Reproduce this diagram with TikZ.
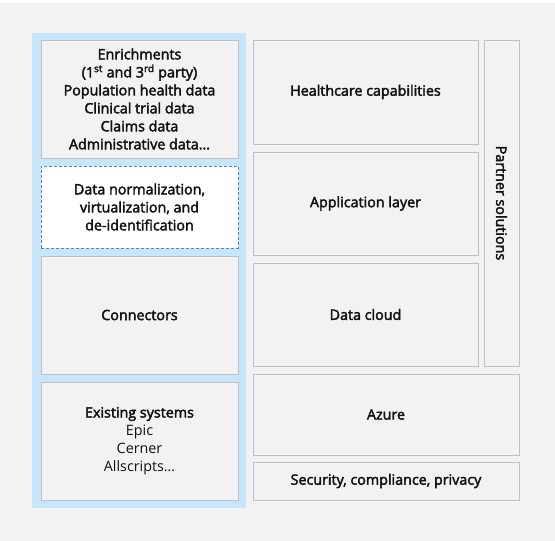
\documentclass[tikz,border=0pt]{standalone}
\usepackage{fontspec}
\setmainfont{Open Sans}
\newfontfamily\semib[FakeBold=2.6]{Open Sans}
\usepackage{tikz}
\usetikzlibrary{positioning}

\definecolor{bggray}{HTML}{F2F2F2}
\definecolor{boxline}{HTML}{C0C0C0}
\definecolor{panelblue}{HTML}{C7E5FB}
\definecolor{dashblue}{HTML}{4F88B5}
\definecolor{txt}{HTML}{111111}

\newcommand{\plain}[1]{{\normalfont\fontsize{14.3}{18}\selectfont #1}}

\tikzset{
	layer/.style={draw=boxline, fill=bggray, line width=1pt, inner sep=0pt, align=center,
		text=txt, font=\semib\fontsize{14.3}{18}\selectfont},
	dashbox/.style={layer, draw=dashblue, fill=white, dash pattern=on 3pt off 2pt},
	panel/.style={fill=panelblue, inner sep=0pt}
}

\begin{document}
\begin{tikzpicture}[x=1pt, y=-1pt]
		\useasboundingbox (0,0) rectangle (555,541);
		\fill[bggray] (0,3) rectangle (555,541);

		% Define nodes
		\node[panel, minimum width=214, minimum height=475] (P) at (139,270.5) {};
		\node[layer, minimum width=197, minimum height=118] (Enrich) at (139.5,99)
			{Enrichments\\(1\textsuperscript{st} and 3\textsuperscript{rd} party)\\Population health data\\Clinical trial data\\Claims data\\Administrative data\ldots};
		\node[dashbox, minimum width=197, minimum height=82] (Norm) at (139.5,207)
			{Data normalization,\\virtualization, and\\de-identification};
		\node[layer, minimum width=197, minimum height=118] (Conn) at (139.5,315) {Connectors};
		\node[layer, minimum width=197, minimum height=118] (Exist) at (139.5,441)
			{Existing systems\\\plain{Epic}\\\plain{Cerner}\\\plain{Allscripts\ldots}};

		\node[layer, minimum width=225, minimum height=104] (Health) at (365.5,92) {Healthcare capabilities};
		\node[layer, minimum width=225, minimum height=103] (App) at (365.5,203.5) {Application layer};
		\node[layer, minimum width=225, minimum height=103] (Cloud) at (365.5,314.5) {Data cloud};
		\node[layer, minimum width=35, minimum height=326] (Partner) at (501.5,203) {};
		\node[rotate=-90, text=txt, font=\semib\fontsize{14.3}{18}\selectfont] (PartnerT) at (Partner.center) {Partner solutions};
		\node[layer, minimum width=266, minimum height=81] (Azure) at (386,414.5) {Azure};
		\node[layer, minimum width=266, minimum height=38] (Secure) at (386,481) {Security, compliance, privacy};
	\end{tikzpicture}
\end{document}
